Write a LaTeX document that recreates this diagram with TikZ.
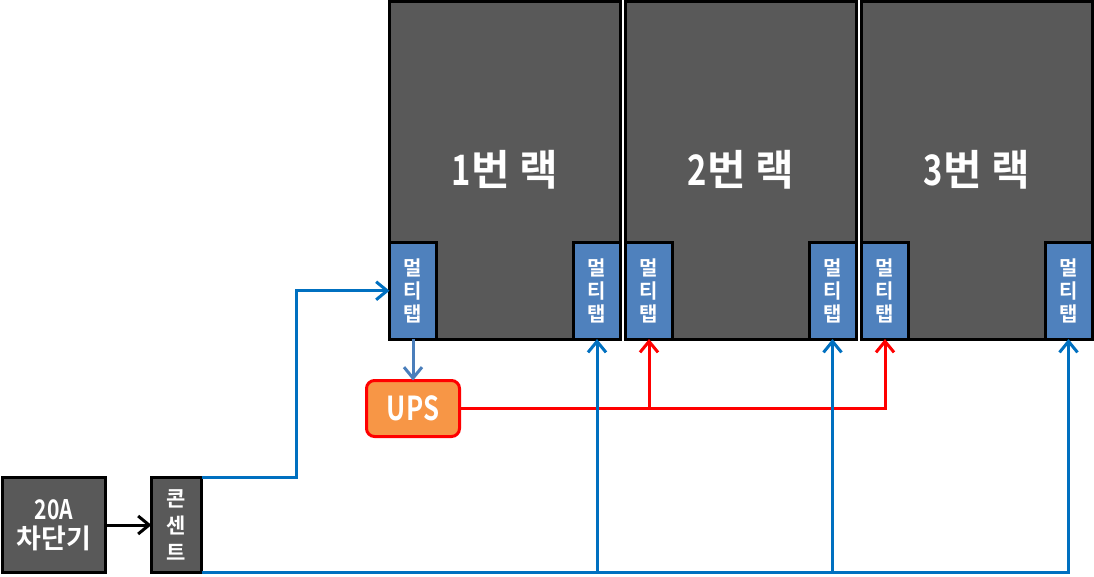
\documentclass[tikz,border=0pt]{standalone}
\usepackage{fontspec}
\setmainfont{Noto Sans CJK KR}[BoldFont={Noto Sans CJK KR Bold}]
\newfontfamily\condfont{Noto Sans CJK KR}[BoldFont={Noto Sans CJK KR Bold}, FakeStretch=0.78]
\usetikzlibrary{arrows.meta}
\usepackage{xcolor}
\definecolor{rackgray}{RGB}{89,89,89}
\definecolor{tapblue}{RGB}{79,129,189}
\definecolor{upsorange}{RGB}{247,150,70}
\definecolor{feedblue}{RGB}{0,112,192}
\definecolor{tapline}{RGB}{74,126,187}
\definecolor{upsred}{RGB}{255,0,0}

\begin{document}
\begin{tikzpicture}[x=1pt, y=-1pt, line width=3pt,
    box/.style={draw=black, fill=rackgray, text=white, inner sep=0pt, outer sep=0pt, align=center},
    rackbox/.style={box, minimum width=231pt, minimum height=337.5pt,
      font=\fontsize{42}{44}\selectfont\bfseries},
    tapbox/.style={box, fill=tapblue, minimum width=47pt, minimum height=96.5pt,
      font=\fontsize{20}{23}\selectfont\bfseries},
    upsbox/.style={box, draw=upsred, fill=upsorange, rounded corners=8pt,
      minimum width=93pt, minimum height=56pt, font=\condfont\fontsize{33}{36}\selectfont\bfseries},
    tip/.style={-{Straight Barb[length=11pt, width=18pt]}},
    feed/.style={draw=feedblue, tip},
    backup/.style={draw=upsred, tip}]
  \useasboundingbox (0,0) rectangle (1094,577);

  % RACKS
  \foreach \n/\x in {1/505, 2/740.75, 3/976.75}
    \node[rackbox] (rack\n) at (\x,170.25) {{\condfont\n}번 랙};

  % multi-taps, left and right in each rack
  \foreach \n/\x in {1L/413, 1R/597, 2L/649, 2R/832.5, 3L/885, 3R/1068.5}
    \node[tapbox] (tap\n) at (\x,290.75) {멀\\티\\탭};

  % UPS, breaker, outlet
  \node[upsbox] (ups) at (413,408.5) {UPS};
  \node[box, minimum width=103pt, minimum height=95pt,
    font=\fontsize{27}{29}\selectfont\bfseries] (breaker) at (54,525) {{\condfont 20A}\\차단기};
  \node[box, minimum width=50pt, minimum height=95pt,
    font=\fontsize{21}{27}\selectfont\bfseries] (outlet) at (176.5,525) {콘\\센\\트};
  \coordinate (bend) at (296,0);

  % breaker -> outlet
  \draw[tip] (breaker.east) -- (outlet.west);

  % outlet -> first tap, tap -> UPS
  \draw[feed] (outlet.north east) -| (bend |- tap1L.west) -- (tap1L.west);
  \draw[draw=tapline, tip] (tap1L.south) -- (ups.north);

  % UPS -> left taps of rack 2 and 3
  \draw[backup] (ups.east) -| (tap3L.south);
  \draw[backup] (tap2L.south |- ups.east) -- (tap2L.south);

  % outlet bus -> right taps
  \draw[feed] (outlet.south east) -| (tap3R.south);
  \foreach \t in {1R, 2R}
    \draw[feed] (tap\t.south |- outlet.south) -- (tap\t.south);
\end{tikzpicture}
\end{document}
